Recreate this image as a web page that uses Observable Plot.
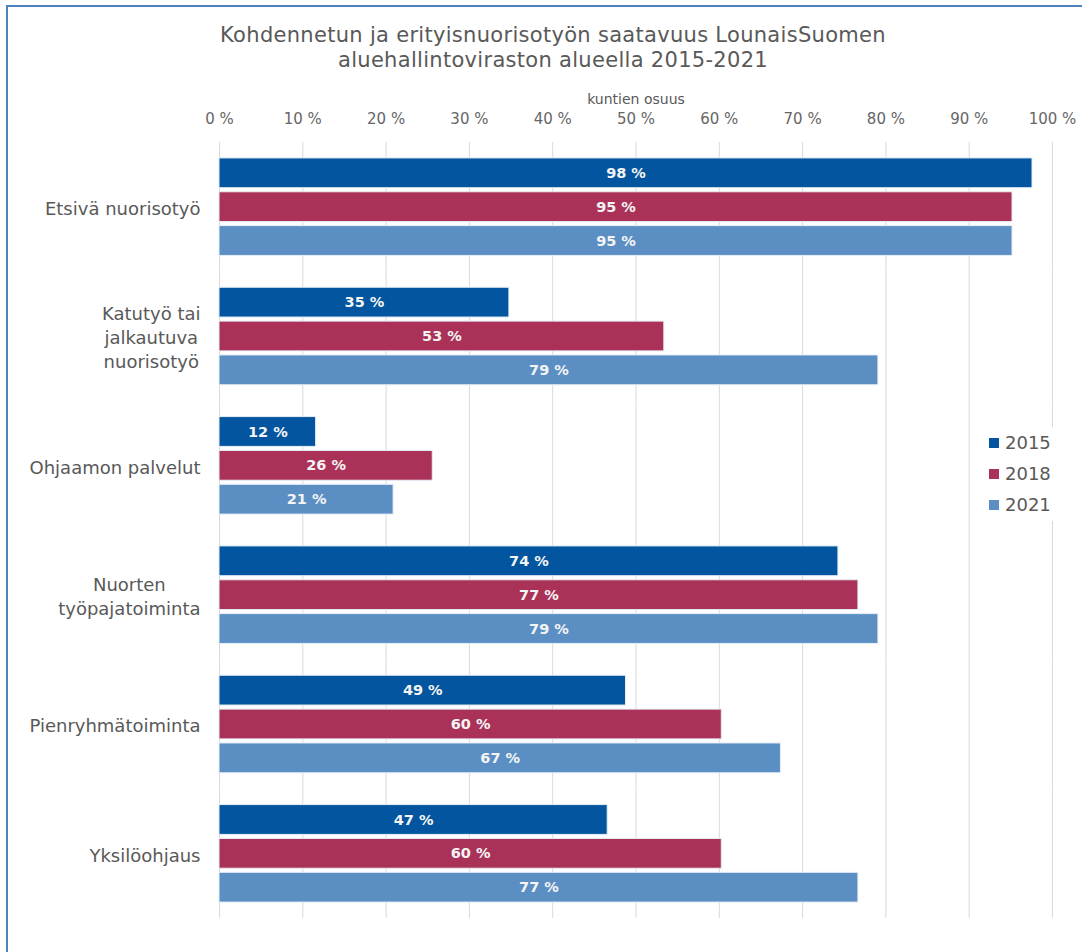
<!DOCTYPE html>
<html>
<head>
<meta charset="utf-8">
<script src="https://cdn.jsdelivr.net/npm/d3@7"></script>
<script src="https://cdn.jsdelivr.net/npm/@observablehq/plot@0.6"></script>
<style>
  html, body { margin: 0; padding: 0; background: #fff; }
  #wrap { position: relative; width: 1082px; height: 952px; overflow: hidden; font-family: "DejaVu Sans", sans-serif; }
  #frame { position: absolute; left: 6px; top: 5px; width: 1100px; height: 1000px; border-top: 2px solid #4f81bd; border-left: 2px solid #4f81bd; }
  #title { position: absolute; left: 0; top: 0; width: 1106px; height: 108px; text-align: center; }
  #title .t { position: absolute; width: 100%; font-size: 21px; line-height: 25px; letter-spacing: 0.3px; color: #595959; white-space: nowrap; }
  #title .l { position: absolute; left: 536px; width: 200px; top: 91px; font-size: 14px; color: #595959; text-align: center; }
  #chart { position: absolute; left: 0; top: 108px; }
  #legend { position: absolute; left: 978px; top: 427px; width: 82px; height: 94px; background: #fff; }
  #legend .item { position: absolute; left: 11px; font-size: 18px; color: #595959; line-height: 20px; white-space: nowrap; }
  #legend .sw { display: inline-block; width: 10px; height: 10px; margin-right: 6px; vertical-align: 1px; }
</style>
</head>
<body>
<div id="wrap">
  <div id="frame"></div>
  <div id="title">
    <div class="t" style="top:23px">Kohdennetun ja erityisnuorisotyön saatavuus LounaisSuomen</div>
    <div class="t" style="top:48px">aluehallintoviraston alueella 2015-2021</div>
    <div class="l">kuntien osuus</div>
  </div>
  <div id="chart"></div>
  <div id="legend"></div>
</div>
<script>
const categories = ["Etsivä nuorisotyö", "Katutyö tai\njalkautuva\nnuorisotyö", "Ohjaamon palvelut", "Nuorten\ntyöpajatoiminta", "Pienryhmätoiminta", "Yksilöohjaus"];
const years = ["2015", "2018", "2021"];
const v2015 = [97.6, 34.8, 11.6, 74.3, 48.8, 46.6];
const v2018 = [95.2, 53.4, 25.6, 76.7, 60.3, 60.3];
const v2021 = [95.2, 79.1, 20.9, 79.1, 67.4, 76.7];
const xTicks = [0, 10, 20, 30, 40, 50, 60, 70, 80, 90, 100];
const colors = ["#02559e", "#aa3258", "#5b8fc4"];

const series = [v2015, v2018, v2021];
const data = [];
categories.forEach((c, i) => years.forEach((y, j) => data.push({category: c, year: y, value: series[j][i]})));

// measure label blocks so multi-line labels are centred per line, block right-aligned
const ctx = document.createElement("canvas").getContext("2d");
ctx.font = "18px 'DejaVu Sans'";
const blockWidth = c => Math.max(...c.split("\n").map(s => ctx.measureText(s).width));

const labelMarks = categories.map(c => Plot.text([c], {
  fy: d => d,
  frameAnchor: "left",
  textAnchor: "middle",
  dx: -19 - blockWidth(c) / 2,
  fontSize: 18,
  lineHeight: 1.33,
  fill: "#595959"
}));

const chart = Plot.plot({
  width: 1082,
  height: 844,
  marginLeft: 219,
  marginRight: 30,
  marginTop: 34,
  marginBottom: 34,
  style: {fontFamily: "'DejaVu Sans', sans-serif", background: "transparent"},
  x: {domain: [0, 100]},
  y: {domain: years, paddingInner: 0.12, paddingOuter: 0.47, round: false, axis: null},
  fy: {domain: categories, padding: 0, round: false, axis: null},
  color: {domain: years, range: colors},
  marks: [
    Plot.gridX(xTicks, {stroke: "#d9d9d9", strokeOpacity: 1, strokeWidth: 1}),
    Plot.axisX({anchor: "top", ticks: xTicks, tickFormat: d => d + " %", tickSize: 0, tickPadding: 19, fontSize: 15, fill: "#666", label: null}),
    ...labelMarks,
    Plot.barX(data, {x: "value", y: "year", fy: "category", fill: "year", stroke: "#e6eef6", strokeWidth: 1}),
    Plot.text(data, {x: d => d.value / 2, y: "year", fy: "category", text: d => Math.round(d.value) + " %", fill: "#f4f4f4", fontWeight: "bold", fontSize: 14.5})
  ]
});
document.getElementById("chart").appendChild(chart);

const legend = document.getElementById("legend");
years.forEach((y, i) => {
  const d = document.createElement("div");
  d.className = "item";
  d.style.top = (6 + i * 31) + "px";
  d.innerHTML = `<span class="sw" style="background:${colors[i]}"></span>${y}`;
  legend.appendChild(d);
});
</script>
</body>
</html>
